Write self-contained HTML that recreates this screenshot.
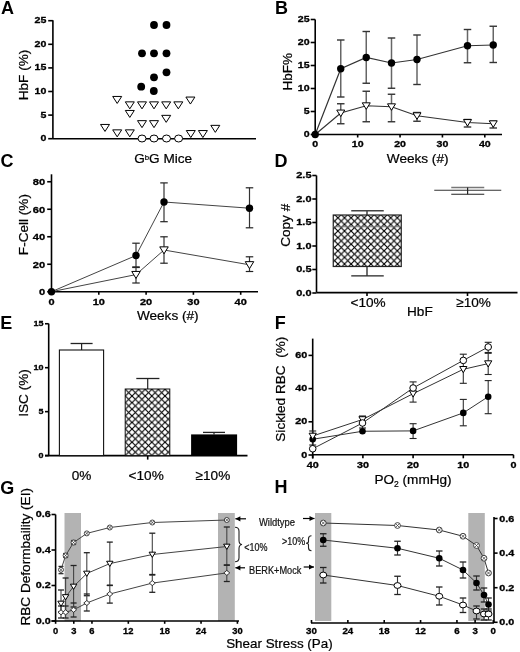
<!DOCTYPE html><html><head><meta charset="utf-8"><style>html,body{margin:0;padding:0;background:#fff;width:520px;height:652px;overflow:hidden}svg{display:block;will-change:transform}text{font-family:"Liberation Sans",sans-serif;stroke:#000;stroke-width:.22px}text.t{stroke-width:.3px}text.p{stroke:none}</style></head><body>
<svg width="520" height="652" viewBox="0 0 520 652">
<defs><pattern id="hatch" patternUnits="userSpaceOnUse" width="6.6" height="6.6" x="1.3" y="0"><rect width="6.6" height="6.6" fill="#fff"/><path d="M-1,1L1,-1M0,6.6L6.6,0M5.6,7.6L7.6,5.6" stroke="#000" stroke-width="1.15"/><path d="M-1,5.6L1,7.6M0,0L6.6,6.6M5.6,-1L7.6,1" stroke="#000" stroke-width="1.15"/></pattern><pattern id="hatchE" patternUnits="userSpaceOnUse" width="6.6" height="6.6" x="0" y="0"><rect width="6.6" height="6.6" fill="#fff"/><path d="M-1,1L1,-1M0,6.6L6.6,0M5.6,7.6L7.6,5.6" stroke="#000" stroke-width="1.15"/><path d="M-1,5.6L1,7.6M0,0L6.6,6.6M5.6,-1L7.6,1" stroke="#000" stroke-width="1.15"/></pattern></defs>
<rect width="520" height="652" fill="#fff"/>
<text x="1.0" y="13.7" font-size="18" font-weight="bold" text-anchor="start" fill="#000" class="p">A</text>
<line x1="52.9" y1="20.3" x2="52.9" y2="138.7" stroke="#000" stroke-width="1.6" />
<line x1="52.9" y1="138.7" x2="256" y2="138.7" stroke="#000" stroke-width="1.6" />
<line x1="48.2" y1="138.7" x2="52.9" y2="138.7" stroke="#000" stroke-width="1.6" />
<text x="46.4" y="141.25" font-size="9.29" font-weight="bold" text-anchor="end" fill="#000" textLength="5.9" lengthAdjust="spacingAndGlyphs" class="t">0</text>
<line x1="48.2" y1="115.1" x2="52.9" y2="115.1" stroke="#000" stroke-width="1.6" />
<text x="46.4" y="117.65" font-size="9.29" font-weight="bold" text-anchor="end" fill="#000" textLength="5.9" lengthAdjust="spacingAndGlyphs" class="t">5</text>
<line x1="48.2" y1="91.5" x2="52.9" y2="91.5" stroke="#000" stroke-width="1.6" />
<text x="46.4" y="94.05" font-size="9.29" font-weight="bold" text-anchor="end" fill="#000" textLength="11.8" lengthAdjust="spacingAndGlyphs" class="t">10</text>
<line x1="48.2" y1="67.89999999999999" x2="52.9" y2="67.89999999999999" stroke="#000" stroke-width="1.6" />
<text x="46.4" y="70.45" font-size="9.29" font-weight="bold" text-anchor="end" fill="#000" textLength="11.8" lengthAdjust="spacingAndGlyphs" class="t">15</text>
<line x1="48.2" y1="44.3" x2="52.9" y2="44.3" stroke="#000" stroke-width="1.6" />
<text x="46.4" y="46.85" font-size="9.29" font-weight="bold" text-anchor="end" fill="#000" textLength="11.8" lengthAdjust="spacingAndGlyphs" class="t">20</text>
<line x1="48.2" y1="20.69999999999999" x2="52.9" y2="20.69999999999999" stroke="#000" stroke-width="1.6" />
<text x="46.4" y="23.25" font-size="9.29" font-weight="bold" text-anchor="end" fill="#000" textLength="11.8" lengthAdjust="spacingAndGlyphs" class="t">25</text>
<text transform="translate(28.0,75) rotate(-90)" font-size="13.6" text-anchor="middle">HbF (%)</text>
<text x="134.2" y="162.6" font-size="13.6">G<tspan font-size="7.8" dy="-2.6">b</tspan><tspan dy="2.6">G Mice</tspan></text>
<circle cx="154" cy="25" r="3.9" fill="#000"/>
<circle cx="166.5" cy="25" r="3.9" fill="#000"/>
<circle cx="142" cy="53.3" r="3.9" fill="#000"/>
<circle cx="154" cy="53.3" r="3.9" fill="#000"/>
<circle cx="166.5" cy="53.3" r="3.9" fill="#000"/>
<circle cx="166.5" cy="72.3" r="3.9" fill="#000"/>
<circle cx="154" cy="77.3" r="3.9" fill="#000"/>
<circle cx="141.2" cy="86.7" r="3.9" fill="#000"/>
<circle cx="153.8" cy="91" r="3.9" fill="#000"/>
<polygon points="112.7,96.44999999999999 121.7,96.44999999999999 117.2,103.44999999999999" fill="#fff" stroke="#000" stroke-width="1" stroke-linejoin="miter"/>
<polygon points="125.30000000000001,101.85 134.3,101.85 129.8,108.85" fill="#fff" stroke="#000" stroke-width="1" stroke-linejoin="miter"/>
<polygon points="137.5,101.85 146.5,101.85 142,108.85" fill="#fff" stroke="#000" stroke-width="1" stroke-linejoin="miter"/>
<polygon points="149.5,101.85 158.5,101.85 154,108.85" fill="#fff" stroke="#000" stroke-width="1" stroke-linejoin="miter"/>
<polygon points="161.7,101.85 170.7,101.85 166.2,108.85" fill="#fff" stroke="#000" stroke-width="1" stroke-linejoin="miter"/>
<polygon points="173.8,101.85 182.8,101.85 178.3,108.85" fill="#fff" stroke="#000" stroke-width="1" stroke-linejoin="miter"/>
<polygon points="185.9,97.05 194.9,97.05 190.4,104.05" fill="#fff" stroke="#000" stroke-width="1" stroke-linejoin="miter"/>
<polygon points="125.30000000000001,110.44999999999999 134.3,110.44999999999999 129.8,117.44999999999999" fill="#fff" stroke="#000" stroke-width="1" stroke-linejoin="miter"/>
<polygon points="137.5,120.64999999999999 146.5,120.64999999999999 142,127.64999999999999" fill="#fff" stroke="#000" stroke-width="1" stroke-linejoin="miter"/>
<polygon points="149.5,120.64999999999999 158.5,120.64999999999999 154,127.64999999999999" fill="#fff" stroke="#000" stroke-width="1" stroke-linejoin="miter"/>
<polygon points="161.7,115.35 170.7,115.35 166.2,122.35" fill="#fff" stroke="#000" stroke-width="1" stroke-linejoin="miter"/>
<polygon points="100.5,124.44999999999999 109.5,124.44999999999999 105,131.45" fill="#fff" stroke="#000" stroke-width="1" stroke-linejoin="miter"/>
<polygon points="112.7,129.85 121.7,129.85 117.2,136.85" fill="#fff" stroke="#000" stroke-width="1" stroke-linejoin="miter"/>
<polygon points="125.30000000000001,129.85 134.3,129.85 129.8,136.85" fill="#fff" stroke="#000" stroke-width="1" stroke-linejoin="miter"/>
<polygon points="186.3,130.54999999999998 195.3,130.54999999999998 190.8,137.54999999999998" fill="#fff" stroke="#000" stroke-width="1" stroke-linejoin="miter"/>
<polygon points="198.4,130.54999999999998 207.4,130.54999999999998 202.9,137.54999999999998" fill="#fff" stroke="#000" stroke-width="1" stroke-linejoin="miter"/>
<polygon points="210.8,125.35 219.8,125.35 215.3,132.35" fill="#fff" stroke="#000" stroke-width="1" stroke-linejoin="miter"/>
<ellipse cx="142" cy="138.5" rx="4" ry="3.5" fill="#fff" stroke="#000" stroke-width="1"/>
<ellipse cx="154" cy="138.5" rx="4" ry="3.5" fill="#fff" stroke="#000" stroke-width="1"/>
<ellipse cx="166.5" cy="138.5" rx="4" ry="3.5" fill="#fff" stroke="#000" stroke-width="1"/>
<ellipse cx="178.6" cy="138.5" rx="4" ry="3.5" fill="#fff" stroke="#000" stroke-width="1"/>
<text x="275.0" y="13.7" font-size="18" font-weight="bold" text-anchor="start" fill="#000" class="p">B</text>
<line x1="315.2" y1="19.5" x2="315.2" y2="134.5" stroke="#000" stroke-width="1.6" />
<line x1="315.2" y1="134.5" x2="502" y2="134.5" stroke="#000" stroke-width="1.6" />
<line x1="310.7" y1="134.5" x2="315.2" y2="134.5" stroke="#000" stroke-width="1.6" />
<text x="309.6" y="137.05" font-size="9.29" font-weight="bold" text-anchor="end" fill="#000" textLength="5.9" lengthAdjust="spacingAndGlyphs" class="t">0</text>
<line x1="310.7" y1="111.5" x2="315.2" y2="111.5" stroke="#000" stroke-width="1.6" />
<text x="309.6" y="114.05" font-size="9.29" font-weight="bold" text-anchor="end" fill="#000" textLength="5.9" lengthAdjust="spacingAndGlyphs" class="t">5</text>
<line x1="310.7" y1="88.5" x2="315.2" y2="88.5" stroke="#000" stroke-width="1.6" />
<text x="309.6" y="91.05" font-size="9.29" font-weight="bold" text-anchor="end" fill="#000" textLength="11.8" lengthAdjust="spacingAndGlyphs" class="t">10</text>
<line x1="310.7" y1="65.5" x2="315.2" y2="65.5" stroke="#000" stroke-width="1.6" />
<text x="309.6" y="68.05" font-size="9.29" font-weight="bold" text-anchor="end" fill="#000" textLength="11.8" lengthAdjust="spacingAndGlyphs" class="t">15</text>
<line x1="310.7" y1="42.5" x2="315.2" y2="42.5" stroke="#000" stroke-width="1.6" />
<text x="309.6" y="45.05" font-size="9.29" font-weight="bold" text-anchor="end" fill="#000" textLength="11.8" lengthAdjust="spacingAndGlyphs" class="t">20</text>
<line x1="310.7" y1="19.500000000000014" x2="315.2" y2="19.500000000000014" stroke="#000" stroke-width="1.6" />
<text x="309.6" y="22.05" font-size="9.29" font-weight="bold" text-anchor="end" fill="#000" textLength="11.8" lengthAdjust="spacingAndGlyphs" class="t">25</text>
<line x1="315.3" y1="134.5" x2="315.3" y2="137.5" stroke="#000" stroke-width="1.6" />
<text x="315.3" y="146.95" font-size="9.29" font-weight="bold" text-anchor="middle" fill="#000" textLength="5.9" lengthAdjust="spacingAndGlyphs" class="t">0</text>
<line x1="357.675" y1="134.5" x2="357.675" y2="137.5" stroke="#000" stroke-width="1.6" />
<text x="357.675" y="146.95" font-size="9.29" font-weight="bold" text-anchor="middle" fill="#000" textLength="11.8" lengthAdjust="spacingAndGlyphs" class="t">10</text>
<line x1="400.05" y1="134.5" x2="400.05" y2="137.5" stroke="#000" stroke-width="1.6" />
<text x="400.05" y="146.95" font-size="9.29" font-weight="bold" text-anchor="middle" fill="#000" textLength="11.8" lengthAdjust="spacingAndGlyphs" class="t">20</text>
<line x1="442.425" y1="134.5" x2="442.425" y2="137.5" stroke="#000" stroke-width="1.6" />
<text x="442.425" y="146.95" font-size="9.29" font-weight="bold" text-anchor="middle" fill="#000" textLength="11.8" lengthAdjust="spacingAndGlyphs" class="t">30</text>
<line x1="484.8" y1="134.5" x2="484.8" y2="137.5" stroke="#000" stroke-width="1.6" />
<text x="484.8" y="146.95" font-size="9.29" font-weight="bold" text-anchor="middle" fill="#000" textLength="11.8" lengthAdjust="spacingAndGlyphs" class="t">40</text>
<text x="386.8" y="162.5" font-size="13.6" font-weight="normal" text-anchor="start" fill="#000" >Weeks (#)</text>
<text transform="translate(292,71.7) rotate(-90)" font-size="13.6" text-anchor="middle">HbF%</text>
<line x1="340.75" y1="40" x2="340.75" y2="97" stroke="#666" stroke-width="1.5" />
<line x1="337.0" y1="40" x2="344.5" y2="40" stroke="#333" stroke-width="1.4" />
<line x1="337.0" y1="97" x2="344.5" y2="97" stroke="#333" stroke-width="1.4" />
<line x1="340.75" y1="103.75" x2="340.75" y2="123.75" stroke="#666" stroke-width="1.5" />
<line x1="337.0" y1="103.75" x2="344.5" y2="103.75" stroke="#333" stroke-width="1.4" />
<line x1="337.0" y1="123.75" x2="344.5" y2="123.75" stroke="#333" stroke-width="1.4" />
<line x1="366.25" y1="31.5" x2="366.25" y2="83.25" stroke="#666" stroke-width="1.5" />
<line x1="362.5" y1="31.5" x2="370.0" y2="31.5" stroke="#333" stroke-width="1.4" />
<line x1="362.5" y1="83.25" x2="370.0" y2="83.25" stroke="#333" stroke-width="1.4" />
<line x1="366.25" y1="91.25" x2="366.25" y2="121.75" stroke="#666" stroke-width="1.5" />
<line x1="362.5" y1="91.25" x2="370.0" y2="91.25" stroke="#333" stroke-width="1.4" />
<line x1="362.5" y1="121.75" x2="370.0" y2="121.75" stroke="#333" stroke-width="1.4" />
<line x1="391.5" y1="38" x2="391.5" y2="88.25" stroke="#666" stroke-width="1.5" />
<line x1="387.75" y1="38" x2="395.25" y2="38" stroke="#333" stroke-width="1.4" />
<line x1="387.75" y1="88.25" x2="395.25" y2="88.25" stroke="#333" stroke-width="1.4" />
<line x1="391.5" y1="94.25" x2="391.5" y2="121.75" stroke="#666" stroke-width="1.5" />
<line x1="387.75" y1="94.25" x2="395.25" y2="94.25" stroke="#333" stroke-width="1.4" />
<line x1="387.75" y1="121.75" x2="395.25" y2="121.75" stroke="#333" stroke-width="1.4" />
<line x1="417" y1="35" x2="417" y2="84.5" stroke="#666" stroke-width="1.5" />
<line x1="413.25" y1="35" x2="420.75" y2="35" stroke="#333" stroke-width="1.4" />
<line x1="413.25" y1="84.5" x2="420.75" y2="84.5" stroke="#333" stroke-width="1.4" />
<line x1="417" y1="112.5" x2="417" y2="121.25" stroke="#666" stroke-width="1.5" />
<line x1="413.25" y1="112.5" x2="420.75" y2="112.5" stroke="#333" stroke-width="1.4" />
<line x1="413.25" y1="121.25" x2="420.75" y2="121.25" stroke="#333" stroke-width="1.4" />
<line x1="467.5" y1="29.5" x2="467.5" y2="62.75" stroke="#666" stroke-width="1.5" />
<line x1="463.75" y1="29.5" x2="471.25" y2="29.5" stroke="#333" stroke-width="1.4" />
<line x1="463.75" y1="62.75" x2="471.25" y2="62.75" stroke="#333" stroke-width="1.4" />
<line x1="467.5" y1="119.5" x2="467.5" y2="127" stroke="#666" stroke-width="1.5" />
<line x1="463.75" y1="119.5" x2="471.25" y2="119.5" stroke="#333" stroke-width="1.4" />
<line x1="463.75" y1="127" x2="471.25" y2="127" stroke="#333" stroke-width="1.4" />
<line x1="493.25" y1="26.25" x2="493.25" y2="62.5" stroke="#666" stroke-width="1.5" />
<line x1="489.5" y1="26.25" x2="497.0" y2="26.25" stroke="#333" stroke-width="1.4" />
<line x1="489.5" y1="62.5" x2="497.0" y2="62.5" stroke="#333" stroke-width="1.4" />
<line x1="493.25" y1="121.25" x2="493.25" y2="128" stroke="#666" stroke-width="1.5" />
<line x1="489.5" y1="121.25" x2="497.0" y2="121.25" stroke="#333" stroke-width="1.4" />
<line x1="489.5" y1="128" x2="497.0" y2="128" stroke="#333" stroke-width="1.4" />
<polyline points="315.2,134.5 340.75,68.75 366.25,57.5 391.5,63 417,59.5 467.5,45.75 493.25,45" fill="none" stroke="#333" stroke-width="1.2"/>
<polyline points="315.2,134.5 340.75,113 366.25,105.75 391.5,106.75 417,115.75 467.5,122.5 493.25,123.75" fill="none" stroke="#333" stroke-width="1.2"/>
<circle cx="315.2" cy="134.5" r="3.7" fill="#000"/>
<circle cx="340.75" cy="68.75" r="3.7" fill="#000"/>
<circle cx="366.25" cy="57.5" r="3.7" fill="#000"/>
<circle cx="391.5" cy="63" r="3.7" fill="#000"/>
<circle cx="417" cy="59.5" r="3.7" fill="#000"/>
<circle cx="467.5" cy="45.75" r="3.7" fill="#000"/>
<circle cx="493.25" cy="45" r="3.7" fill="#000"/>
<polygon points="336.75,110.075 344.75,110.075 340.75,116.575" fill="#fff" stroke="#000" stroke-width="1" stroke-linejoin="miter"/>
<polygon points="362.25,102.825 370.25,102.825 366.25,109.325" fill="#fff" stroke="#000" stroke-width="1" stroke-linejoin="miter"/>
<polygon points="387.5,103.825 395.5,103.825 391.5,110.325" fill="#fff" stroke="#000" stroke-width="1" stroke-linejoin="miter"/>
<polygon points="413.0,112.825 421.0,112.825 417,119.325" fill="#fff" stroke="#000" stroke-width="1" stroke-linejoin="miter"/>
<polygon points="463.5,119.575 471.5,119.575 467.5,126.075" fill="#fff" stroke="#000" stroke-width="1" stroke-linejoin="miter"/>
<polygon points="489.25,120.825 497.25,120.825 493.25,127.325" fill="#fff" stroke="#000" stroke-width="1" stroke-linejoin="miter"/>
<text x="0.6" y="166.5" font-size="18" font-weight="bold" text-anchor="start" fill="#000" class="p">C</text>
<line x1="51.5" y1="174.3" x2="51.5" y2="291.7" stroke="#000" stroke-width="1.6" />
<line x1="51.5" y1="291.7" x2="258" y2="291.7" stroke="#000" stroke-width="1.6" />
<line x1="47.2" y1="291.75" x2="51.5" y2="291.75" stroke="#000" stroke-width="1.6" />
<text x="45.2" y="295.1" font-size="9.57" font-weight="bold" text-anchor="end" fill="#000" textLength="6.2" lengthAdjust="spacingAndGlyphs" class="t">0</text>
<line x1="47.2" y1="264.25" x2="51.5" y2="264.25" stroke="#000" stroke-width="1.6" />
<text x="45.2" y="267.6" font-size="9.57" font-weight="bold" text-anchor="end" fill="#000" textLength="12.4" lengthAdjust="spacingAndGlyphs" class="t">20</text>
<line x1="47.2" y1="236.75" x2="51.5" y2="236.75" stroke="#000" stroke-width="1.6" />
<text x="45.2" y="240.1" font-size="9.57" font-weight="bold" text-anchor="end" fill="#000" textLength="12.4" lengthAdjust="spacingAndGlyphs" class="t">40</text>
<line x1="47.2" y1="209.25" x2="51.5" y2="209.25" stroke="#000" stroke-width="1.6" />
<text x="45.2" y="212.6" font-size="9.57" font-weight="bold" text-anchor="end" fill="#000" textLength="12.4" lengthAdjust="spacingAndGlyphs" class="t">60</text>
<line x1="47.2" y1="181.75" x2="51.5" y2="181.75" stroke="#000" stroke-width="1.6" />
<text x="45.2" y="185.1" font-size="9.57" font-weight="bold" text-anchor="end" fill="#000" textLength="12.4" lengthAdjust="spacingAndGlyphs" class="t">80</text>
<line x1="51.5" y1="291.7" x2="51.5" y2="294.8" stroke="#000" stroke-width="1.6" />
<text x="51.5" y="304.85" font-size="9.29" font-weight="bold" text-anchor="middle" fill="#000" textLength="6.1" lengthAdjust="spacingAndGlyphs" class="t">0</text>
<line x1="98.80000000000001" y1="291.7" x2="98.80000000000001" y2="294.8" stroke="#000" stroke-width="1.6" />
<text x="98.80000000000001" y="304.85" font-size="9.29" font-weight="bold" text-anchor="middle" fill="#000" textLength="12.2" lengthAdjust="spacingAndGlyphs" class="t">10</text>
<line x1="146.10000000000002" y1="291.7" x2="146.10000000000002" y2="294.8" stroke="#000" stroke-width="1.6" />
<text x="146.10000000000002" y="304.85" font-size="9.29" font-weight="bold" text-anchor="middle" fill="#000" textLength="12.2" lengthAdjust="spacingAndGlyphs" class="t">20</text>
<line x1="193.4" y1="291.7" x2="193.4" y2="294.8" stroke="#000" stroke-width="1.6" />
<text x="193.4" y="304.85" font-size="9.29" font-weight="bold" text-anchor="middle" fill="#000" textLength="12.2" lengthAdjust="spacingAndGlyphs" class="t">30</text>
<line x1="240.70000000000002" y1="291.7" x2="240.70000000000002" y2="294.8" stroke="#000" stroke-width="1.6" />
<text x="240.70000000000002" y="304.85" font-size="9.29" font-weight="bold" text-anchor="middle" fill="#000" textLength="12.2" lengthAdjust="spacingAndGlyphs" class="t">40</text>
<text x="136.9" y="320.3" font-size="13.6" font-weight="normal" text-anchor="start" fill="#000" >Weeks (#)</text>
<text transform="translate(28.4,224.6) rotate(-90)" font-size="13.6" text-anchor="middle">F-Cell (%)</text>
<line x1="136" y1="243.2" x2="136" y2="267.5" stroke="#333" stroke-width="1.2" />
<line x1="132.25" y1="243.2" x2="139.75" y2="243.2" stroke="#222" stroke-width="1.2" />
<line x1="132.25" y1="267.5" x2="139.75" y2="267.5" stroke="#222" stroke-width="1.2" />
<line x1="136" y1="266.9" x2="136" y2="283" stroke="#333" stroke-width="1.2" />
<line x1="132.25" y1="266.9" x2="139.75" y2="266.9" stroke="#222" stroke-width="1.2" />
<line x1="132.25" y1="283" x2="139.75" y2="283" stroke="#222" stroke-width="1.2" />
<line x1="164" y1="182.9" x2="164" y2="221.7" stroke="#333" stroke-width="1.2" />
<line x1="160.25" y1="182.9" x2="167.75" y2="182.9" stroke="#222" stroke-width="1.2" />
<line x1="160.25" y1="221.7" x2="167.75" y2="221.7" stroke="#222" stroke-width="1.2" />
<line x1="164" y1="236.8" x2="164" y2="263.2" stroke="#333" stroke-width="1.2" />
<line x1="160.25" y1="236.8" x2="167.75" y2="236.8" stroke="#222" stroke-width="1.2" />
<line x1="160.25" y1="263.2" x2="167.75" y2="263.2" stroke="#222" stroke-width="1.2" />
<line x1="249.5" y1="187.8" x2="249.5" y2="227.8" stroke="#333" stroke-width="1.2" />
<line x1="245.75" y1="187.8" x2="253.25" y2="187.8" stroke="#222" stroke-width="1.2" />
<line x1="245.75" y1="227.8" x2="253.25" y2="227.8" stroke="#222" stroke-width="1.2" />
<line x1="249.5" y1="256.8" x2="249.5" y2="271.5" stroke="#333" stroke-width="1.2" />
<line x1="245.75" y1="256.8" x2="253.25" y2="256.8" stroke="#222" stroke-width="1.2" />
<line x1="245.75" y1="271.5" x2="253.25" y2="271.5" stroke="#222" stroke-width="1.2" />
<polyline points="51.5,291.7 136,255.5 164,202 249.5,208.2" fill="none" stroke="#444" stroke-width="1"/>
<polyline points="51.5,291.7 136,274.6 164,250 249.5,264.8" fill="none" stroke="#444" stroke-width="1"/>
<circle cx="51.5" cy="291.7" r="3.7" fill="#000"/>
<circle cx="136" cy="255.5" r="3.7" fill="#000"/>
<circle cx="164" cy="202" r="3.7" fill="#000"/>
<circle cx="249.5" cy="208.2" r="3.7" fill="#000"/>
<polygon points="131.75,271.45000000000005 140.25,271.45000000000005 136,278.45000000000005" fill="#fff" stroke="#000" stroke-width="1" stroke-linejoin="miter"/>
<polygon points="159.75,246.85 168.25,246.85 164,253.85" fill="#fff" stroke="#000" stroke-width="1" stroke-linejoin="miter"/>
<polygon points="245.25,261.65000000000003 253.75,261.65000000000003 249.5,268.65000000000003" fill="#fff" stroke="#000" stroke-width="1" stroke-linejoin="miter"/>
<text x="274.6" y="166.6" font-size="18" font-weight="bold" text-anchor="start" fill="#000" class="p">D</text>
<line x1="316.5" y1="175.5" x2="316.5" y2="292.6" stroke="#000" stroke-width="1.6" />
<line x1="316.5" y1="292.6" x2="517.5" y2="292.6" stroke="#000" stroke-width="1.6" />
<line x1="312.3" y1="293" x2="316.5" y2="293" stroke="#000" stroke-width="1.6" />
<text x="311.5" y="295.55" font-size="9.29" font-weight="bold" text-anchor="end" fill="#000" textLength="15.25" lengthAdjust="spacingAndGlyphs" class="t">0.0</text>
<line x1="312.3" y1="269.5" x2="316.5" y2="269.5" stroke="#000" stroke-width="1.6" />
<text x="311.5" y="272.05" font-size="9.29" font-weight="bold" text-anchor="end" fill="#000" textLength="15.25" lengthAdjust="spacingAndGlyphs" class="t">0.5</text>
<line x1="312.3" y1="246.0" x2="316.5" y2="246.0" stroke="#000" stroke-width="1.6" />
<text x="311.5" y="248.55" font-size="9.29" font-weight="bold" text-anchor="end" fill="#000" textLength="15.25" lengthAdjust="spacingAndGlyphs" class="t">1.0</text>
<line x1="312.3" y1="222.5" x2="316.5" y2="222.5" stroke="#000" stroke-width="1.6" />
<text x="311.5" y="225.05" font-size="9.29" font-weight="bold" text-anchor="end" fill="#000" textLength="15.25" lengthAdjust="spacingAndGlyphs" class="t">1.5</text>
<line x1="312.3" y1="199.0" x2="316.5" y2="199.0" stroke="#000" stroke-width="1.6" />
<text x="311.5" y="201.55" font-size="9.29" font-weight="bold" text-anchor="end" fill="#000" textLength="15.25" lengthAdjust="spacingAndGlyphs" class="t">2.0</text>
<line x1="312.3" y1="175.5" x2="316.5" y2="175.5" stroke="#000" stroke-width="1.6" />
<text x="311.5" y="178.05" font-size="9.29" font-weight="bold" text-anchor="end" fill="#000" textLength="15.25" lengthAdjust="spacingAndGlyphs" class="t">2.5</text>
<line x1="367" y1="292.6" x2="367" y2="296" stroke="#000" stroke-width="1.6" />
<line x1="467.5" y1="292.6" x2="467.5" y2="296" stroke="#000" stroke-width="1.6" />
<rect x="333.25" y="215" width="68" height="51.5" fill="url(#hatch)" stroke="#222" stroke-width="1.2"/>
<line x1="333.25" y1="226.8" x2="401.25" y2="226.8" stroke="#777" stroke-width="1.1" />
<line x1="367" y1="210.8" x2="367" y2="215" stroke="#222" stroke-width="1.3" />
<line x1="351.25" y1="210.8" x2="383.75" y2="210.8" stroke="#444" stroke-width="1.6" />
<line x1="367" y1="266.5" x2="367" y2="275.8" stroke="#222" stroke-width="1.3" />
<line x1="351.25" y1="275.8" x2="383.75" y2="275.8" stroke="#222" stroke-width="1.3" />
<line x1="434.25" y1="190.3" x2="501.25" y2="190.3" stroke="#333" stroke-width="1.1" />
<line x1="451.25" y1="187.6" x2="484.25" y2="187.6" stroke="#777" stroke-width="1.5" />
<line x1="451.25" y1="194.2" x2="484.25" y2="194.2" stroke="#222" stroke-width="1.1" />
<line x1="467.6" y1="187.6" x2="467.6" y2="194.2" stroke="#222" stroke-width="1.2" />
<text x="350.5" y="306.5" font-size="13.6" font-weight="normal" text-anchor="start" fill="#000" >&lt;10%</text>
<text x="456.2" y="306.7" font-size="13.6" font-weight="normal" text-anchor="start" fill="#000" >≥10%</text>
<text x="407" y="316.3" font-size="13.6" font-weight="normal" text-anchor="start" fill="#000" >HbF</text>
<text transform="translate(290.3,225.3) rotate(-90)" font-size="13.6" text-anchor="middle">Copy #</text>
<text x="0.3" y="328.6" font-size="18" font-weight="bold" text-anchor="start" fill="#000" class="p">E</text>
<line x1="48.7" y1="323.6" x2="48.7" y2="455.6" stroke="#000" stroke-width="1.6" />
<line x1="45" y1="455.6" x2="247.5" y2="455.6" stroke="#000" stroke-width="1.6" />
<line x1="45" y1="455.6" x2="48.7" y2="455.6" stroke="#000" stroke-width="1.6" />
<text x="43.6" y="457.7" font-size="8.0" font-weight="bold" text-anchor="end" fill="#000" textLength="5.0" lengthAdjust="spacingAndGlyphs" class="t">0</text>
<line x1="45" y1="411.65000000000003" x2="48.7" y2="411.65000000000003" stroke="#000" stroke-width="1.6" />
<text x="43.6" y="413.75" font-size="8.0" font-weight="bold" text-anchor="end" fill="#000" textLength="5.0" lengthAdjust="spacingAndGlyphs" class="t">5</text>
<line x1="45" y1="367.70000000000005" x2="48.7" y2="367.70000000000005" stroke="#000" stroke-width="1.6" />
<text x="43.6" y="369.8" font-size="8.0" font-weight="bold" text-anchor="end" fill="#000" textLength="10.0" lengthAdjust="spacingAndGlyphs" class="t">10</text>
<line x1="45" y1="323.75" x2="48.7" y2="323.75" stroke="#000" stroke-width="1.6" />
<text x="43.6" y="325.85" font-size="8.0" font-weight="bold" text-anchor="end" fill="#000" textLength="10.0" lengthAdjust="spacingAndGlyphs" class="t">15</text>
<line x1="147.7" y1="455.6" x2="147.7" y2="459.6" stroke="#000" stroke-width="1.6" />
<line x1="81.6" y1="343.5" x2="81.6" y2="350" stroke="#222" stroke-width="1.2" />
<line x1="70.6" y1="343.5" x2="92.6" y2="343.5" stroke="#222" stroke-width="1.3" />
<rect x="59.4" y="350" width="44.2" height="105.6" fill="#fff" stroke="#111" stroke-width="1.1"/>
<line x1="147.7" y1="378.5" x2="147.7" y2="389" stroke="#222" stroke-width="1.2" />
<line x1="136.3" y1="378.5" x2="159.4" y2="378.5" stroke="#222" stroke-width="1.3" />
<rect x="125.2" y="389" width="44.6" height="66.6" fill="url(#hatchE)" stroke="#111" stroke-width="1"/>
<line x1="214" y1="432.4" x2="214" y2="434.5" stroke="#222" stroke-width="1.2" />
<line x1="203" y1="432.4" x2="225" y2="432.4" stroke="#222" stroke-width="1.3" />
<rect x="191.1" y="434.4" width="46" height="21.2" fill="#000"/>
<text x="71.7" y="479.8" font-size="13.6" font-weight="normal" text-anchor="start" fill="#000" >0%</text>
<text x="128.6" y="479.8" font-size="13.6" font-weight="normal" text-anchor="start" fill="#000" >&lt;10%</text>
<text x="195.6" y="479.8" font-size="13.6" font-weight="normal" text-anchor="start" fill="#000" >≥10%</text>
<text transform="translate(28.0,393) rotate(-90)" font-size="13.6" text-anchor="middle">ISC (%)</text>
<text x="274.8" y="328.6" font-size="18" font-weight="bold" text-anchor="start" fill="#000" class="p">F</text>
<line x1="312.7" y1="338.6" x2="312.7" y2="458.5" stroke="#000" stroke-width="1.6" />
<line x1="312.7" y1="454.8" x2="513.5" y2="454.8" stroke="#000" stroke-width="1.6" />
<line x1="308.5" y1="455.0" x2="312.7" y2="455.0" stroke="#000" stroke-width="1.6" />
<text x="307.3" y="457.55" font-size="9.29" font-weight="bold" text-anchor="end" fill="#000" textLength="6" lengthAdjust="spacingAndGlyphs" class="t">0</text>
<line x1="308.5" y1="421.8" x2="312.7" y2="421.8" stroke="#000" stroke-width="1.6" />
<text x="307.3" y="424.35" font-size="9.29" font-weight="bold" text-anchor="end" fill="#000" textLength="12" lengthAdjust="spacingAndGlyphs" class="t">20</text>
<line x1="308.5" y1="388.6" x2="312.7" y2="388.6" stroke="#000" stroke-width="1.6" />
<text x="307.3" y="391.15" font-size="9.29" font-weight="bold" text-anchor="end" fill="#000" textLength="12" lengthAdjust="spacingAndGlyphs" class="t">40</text>
<line x1="308.5" y1="355.4" x2="312.7" y2="355.4" stroke="#000" stroke-width="1.6" />
<text x="307.3" y="357.95" font-size="9.29" font-weight="bold" text-anchor="end" fill="#000" textLength="12" lengthAdjust="spacingAndGlyphs" class="t">60</text>
<line x1="312.7" y1="454.8" x2="312.7" y2="458.3" stroke="#000" stroke-width="1.6" />
<text x="312.7" y="468.35" font-size="9.29" font-weight="bold" text-anchor="middle" fill="#000" textLength="12" lengthAdjust="spacingAndGlyphs" class="t">40</text>
<line x1="362.9" y1="454.8" x2="362.9" y2="458.3" stroke="#000" stroke-width="1.6" />
<text x="362.9" y="468.35" font-size="9.29" font-weight="bold" text-anchor="middle" fill="#000" textLength="12" lengthAdjust="spacingAndGlyphs" class="t">30</text>
<line x1="413.09999999999997" y1="454.8" x2="413.09999999999997" y2="458.3" stroke="#000" stroke-width="1.6" />
<text x="413.09999999999997" y="468.35" font-size="9.29" font-weight="bold" text-anchor="middle" fill="#000" textLength="12" lengthAdjust="spacingAndGlyphs" class="t">20</text>
<line x1="463.29999999999995" y1="454.8" x2="463.29999999999995" y2="458.3" stroke="#000" stroke-width="1.6" />
<text x="463.29999999999995" y="468.35" font-size="9.29" font-weight="bold" text-anchor="middle" fill="#000" textLength="12" lengthAdjust="spacingAndGlyphs" class="t">10</text>
<line x1="513.5" y1="454.8" x2="513.5" y2="458.3" stroke="#000" stroke-width="1.6" />
<text x="513.5" y="468.35" font-size="9.29" font-weight="bold" text-anchor="middle" fill="#000" textLength="6" lengthAdjust="spacingAndGlyphs" class="t">0</text>
<text x="374.4" y="484.2" font-size="13.6">PO<tspan font-size="8.5" dy="3">2</tspan><tspan dy="-3"> (mmHg)</tspan></text>
<text transform="translate(285.3,389.2) rotate(-90)" font-size="13.6" text-anchor="middle" xml:space="preserve">Sickled RBC  (%)</text>
<line x1="413.1" y1="381.9" x2="413.1" y2="402.1" stroke="#333" stroke-width="1.1" />
<line x1="409.6" y1="381.9" x2="416.6" y2="381.9" stroke="#222" stroke-width="1.1" />
<line x1="409.6" y1="402.1" x2="416.6" y2="402.1" stroke="#222" stroke-width="1.1" />
<line x1="463.3" y1="354.2" x2="463.3" y2="383.3" stroke="#333" stroke-width="1.1" />
<line x1="459.8" y1="354.2" x2="466.8" y2="354.2" stroke="#222" stroke-width="1.1" />
<line x1="459.8" y1="383.3" x2="466.8" y2="383.3" stroke="#222" stroke-width="1.1" />
<line x1="488.2" y1="342.3" x2="488.2" y2="353.3" stroke="#333" stroke-width="1.1" />
<line x1="484.7" y1="342.3" x2="491.7" y2="342.3" stroke="#222" stroke-width="1.1" />
<line x1="484.7" y1="353.3" x2="491.7" y2="353.3" stroke="#222" stroke-width="1.1" />
<line x1="488.2" y1="352.5" x2="488.2" y2="374.5" stroke="#333" stroke-width="1.1" />
<line x1="484.7" y1="352.5" x2="491.7" y2="352.5" stroke="#222" stroke-width="1.1" />
<line x1="484.7" y1="374.5" x2="491.7" y2="374.5" stroke="#222" stroke-width="1.1" />
<line x1="362.5" y1="416" x2="362.5" y2="428" stroke="#333" stroke-width="1.1" />
<line x1="359.0" y1="416" x2="366.0" y2="416" stroke="#222" stroke-width="1.1" />
<line x1="359.0" y1="428" x2="366.0" y2="428" stroke="#222" stroke-width="1.1" />
<line x1="312.7" y1="431" x2="312.7" y2="445" stroke="#333" stroke-width="1.1" />
<line x1="309.2" y1="431" x2="316.2" y2="431" stroke="#222" stroke-width="1.1" />
<line x1="309.2" y1="445" x2="316.2" y2="445" stroke="#222" stroke-width="1.1" />
<line x1="413.1" y1="423.7" x2="413.1" y2="438.5" stroke="#333" stroke-width="1.1" />
<line x1="409.6" y1="423.7" x2="416.6" y2="423.7" stroke="#222" stroke-width="1.1" />
<line x1="409.6" y1="438.5" x2="416.6" y2="438.5" stroke="#222" stroke-width="1.1" />
<line x1="463.3" y1="399.4" x2="463.3" y2="425.8" stroke="#333" stroke-width="1.1" />
<line x1="459.8" y1="399.4" x2="466.8" y2="399.4" stroke="#222" stroke-width="1.1" />
<line x1="459.8" y1="425.8" x2="466.8" y2="425.8" stroke="#222" stroke-width="1.1" />
<line x1="488.2" y1="380.6" x2="488.2" y2="413.7" stroke="#333" stroke-width="1.1" />
<line x1="484.7" y1="380.6" x2="491.7" y2="380.6" stroke="#222" stroke-width="1.1" />
<line x1="484.7" y1="413.7" x2="491.7" y2="413.7" stroke="#222" stroke-width="1.1" />
<polyline points="312.7,448.75 362.5,423 413.1,388 463.3,360.4 488.2,347" fill="none" stroke="#333" stroke-width="1"/>
<polyline points="312.7,436 362.5,419.5 413.1,393.7 463.3,369.3 488.2,363.6" fill="none" stroke="#333" stroke-width="1"/>
<polyline points="312.7,439.25 362.5,431.25 413.1,430.9 463.3,412.9 488.2,396.7" fill="none" stroke="#333" stroke-width="1"/>
<circle cx="312.7" cy="439.25" r="3.3" fill="#000"/>
<circle cx="362.5" cy="431.25" r="3.3" fill="#000"/>
<circle cx="413.1" cy="430.9" r="3.3" fill="#000"/>
<circle cx="463.3" cy="412.9" r="3.3" fill="#000"/>
<circle cx="488.2" cy="396.7" r="3.3" fill="#000"/>
<polygon points="309.09999999999997,433.21 316.3,433.21 312.7,439.41" fill="#fff" stroke="#000" stroke-width="1" stroke-linejoin="miter"/>
<polygon points="358.9,416.71 366.1,416.71 362.5,422.91" fill="#fff" stroke="#000" stroke-width="1" stroke-linejoin="miter"/>
<polygon points="409.5,390.90999999999997 416.70000000000005,390.90999999999997 413.1,397.11" fill="#fff" stroke="#000" stroke-width="1" stroke-linejoin="miter"/>
<polygon points="459.7,366.51 466.90000000000003,366.51 463.3,372.71000000000004" fill="#fff" stroke="#000" stroke-width="1" stroke-linejoin="miter"/>
<polygon points="484.59999999999997,360.81 491.8,360.81 488.2,367.01000000000005" fill="#fff" stroke="#000" stroke-width="1" stroke-linejoin="miter"/>
<circle cx="312.7" cy="448.75" r="3.3" fill="#fff" stroke="#000" stroke-width="1"/>
<circle cx="362.5" cy="423" r="3.3" fill="#fff" stroke="#000" stroke-width="1"/>
<circle cx="413.1" cy="388" r="3.3" fill="#fff" stroke="#000" stroke-width="1"/>
<circle cx="463.3" cy="360.4" r="3.3" fill="#fff" stroke="#000" stroke-width="1"/>
<circle cx="488.2" cy="347" r="3.3" fill="#fff" stroke="#000" stroke-width="1"/>
<text x="0.3" y="493.5" font-size="18" font-weight="bold" text-anchor="start" fill="#000" class="p">G</text>
<rect x="64.5" y="513" width="16.5" height="108" fill="#b3b3b3"/>
<rect x="218" y="513" width="16.8" height="108" fill="#b3b3b3"/>
<line x1="55.6" y1="514.5" x2="55.6" y2="621" stroke="#000" stroke-width="1.6" />
<line x1="51.5" y1="621" x2="239" y2="621" stroke="#000" stroke-width="1.6" />
<line x1="51.5" y1="621.0" x2="55.6" y2="621.0" stroke="#000" stroke-width="1.6" />
<text x="50.8" y="623.55" font-size="9.29" font-weight="bold" text-anchor="end" fill="#000" textLength="15.0" lengthAdjust="spacingAndGlyphs" class="t">0.0</text>
<line x1="51.5" y1="585.5" x2="55.6" y2="585.5" stroke="#000" stroke-width="1.6" />
<text x="50.8" y="588.05" font-size="9.29" font-weight="bold" text-anchor="end" fill="#000" textLength="15.0" lengthAdjust="spacingAndGlyphs" class="t">0.2</text>
<line x1="51.5" y1="550.0" x2="55.6" y2="550.0" stroke="#000" stroke-width="1.6" />
<text x="50.8" y="552.55" font-size="9.29" font-weight="bold" text-anchor="end" fill="#000" textLength="15.0" lengthAdjust="spacingAndGlyphs" class="t">0.4</text>
<line x1="51.5" y1="514.5" x2="55.6" y2="514.5" stroke="#000" stroke-width="1.6" />
<text x="50.8" y="517.05" font-size="9.29" font-weight="bold" text-anchor="end" fill="#000" textLength="15.0" lengthAdjust="spacingAndGlyphs" class="t">0.6</text>
<line x1="55.6" y1="621" x2="55.6" y2="623.8" stroke="#000" stroke-width="1.6" />
<text x="55.6" y="633.75" font-size="9.0" font-weight="bold" text-anchor="middle" fill="#000" textLength="5.2" lengthAdjust="spacingAndGlyphs" class="t">0</text>
<line x1="73.78" y1="621" x2="73.78" y2="623.8" stroke="#000" stroke-width="1.6" />
<text x="73.78" y="633.75" font-size="9.0" font-weight="bold" text-anchor="middle" fill="#000" textLength="5.2" lengthAdjust="spacingAndGlyphs" class="t">3</text>
<line x1="91.96000000000001" y1="621" x2="91.96000000000001" y2="623.8" stroke="#000" stroke-width="1.6" />
<text x="91.96000000000001" y="633.75" font-size="9.0" font-weight="bold" text-anchor="middle" fill="#000" textLength="5.2" lengthAdjust="spacingAndGlyphs" class="t">6</text>
<line x1="128.32" y1="621" x2="128.32" y2="623.8" stroke="#000" stroke-width="1.6" />
<text x="128.32" y="633.75" font-size="9.0" font-weight="bold" text-anchor="middle" fill="#000" textLength="10.4" lengthAdjust="spacingAndGlyphs" class="t">12</text>
<line x1="164.68" y1="621" x2="164.68" y2="623.8" stroke="#000" stroke-width="1.6" />
<text x="164.68" y="633.75" font-size="9.0" font-weight="bold" text-anchor="middle" fill="#000" textLength="10.4" lengthAdjust="spacingAndGlyphs" class="t">18</text>
<line x1="201.04" y1="621" x2="201.04" y2="623.8" stroke="#000" stroke-width="1.6" />
<text x="201.04" y="633.75" font-size="9.0" font-weight="bold" text-anchor="middle" fill="#000" textLength="10.4" lengthAdjust="spacingAndGlyphs" class="t">24</text>
<line x1="237.39999999999998" y1="621" x2="237.39999999999998" y2="623.8" stroke="#000" stroke-width="1.6" />
<text x="237.39999999999998" y="633.75" font-size="9.0" font-weight="bold" text-anchor="middle" fill="#000" textLength="10.4" lengthAdjust="spacingAndGlyphs" class="t">30</text>
<text transform="translate(29.6,556.8) rotate(-90)" font-size="13.6" text-anchor="middle">RBC Deformbaility (EI)</text>
<line x1="61" y1="566.4" x2="61" y2="573.7" stroke="#444" stroke-width="1" />
<line x1="58.5" y1="566.4" x2="63.5" y2="566.4" stroke="#222" stroke-width="1.2" />
<line x1="58.5" y1="573.7" x2="63.5" y2="573.7" stroke="#222" stroke-width="1.2" />
<line x1="61" y1="590" x2="61" y2="612" stroke="#444" stroke-width="1.1" />
<line x1="58.0" y1="590" x2="64.0" y2="590" stroke="#222" stroke-width="1.3" />
<line x1="58.0" y1="612" x2="64.0" y2="612" stroke="#222" stroke-width="1.3" />
<line x1="61" y1="606" x2="61" y2="618" stroke="#444" stroke-width="1.1" />
<line x1="58.0" y1="606" x2="64.0" y2="606" stroke="#222" stroke-width="1.3" />
<line x1="58.0" y1="618" x2="64.0" y2="618" stroke="#222" stroke-width="1.3" />
<line x1="65.6" y1="553.5" x2="65.6" y2="557.5" stroke="#444" stroke-width="1" />
<line x1="63.099999999999994" y1="553.5" x2="68.1" y2="553.5" stroke="#222" stroke-width="1.2" />
<line x1="63.099999999999994" y1="557.5" x2="68.1" y2="557.5" stroke="#222" stroke-width="1.2" />
<line x1="65.6" y1="578" x2="65.6" y2="612" stroke="#444" stroke-width="1.1" />
<line x1="62.599999999999994" y1="578" x2="68.6" y2="578" stroke="#222" stroke-width="1.3" />
<line x1="62.599999999999994" y1="612" x2="68.6" y2="612" stroke="#222" stroke-width="1.3" />
<line x1="65.6" y1="606" x2="65.6" y2="618" stroke="#444" stroke-width="1.1" />
<line x1="62.599999999999994" y1="606" x2="68.6" y2="606" stroke="#222" stroke-width="1.3" />
<line x1="62.599999999999994" y1="618" x2="68.6" y2="618" stroke="#222" stroke-width="1.3" />
<line x1="73.6" y1="540.5" x2="73.6" y2="544.5" stroke="#444" stroke-width="1" />
<line x1="71.1" y1="540.5" x2="76.1" y2="540.5" stroke="#222" stroke-width="1.2" />
<line x1="71.1" y1="544.5" x2="76.1" y2="544.5" stroke="#222" stroke-width="1.2" />
<line x1="73.6" y1="565.5" x2="73.6" y2="607" stroke="#444" stroke-width="1.1" />
<line x1="70.6" y1="565.5" x2="76.6" y2="565.5" stroke="#222" stroke-width="1.3" />
<line x1="70.6" y1="607" x2="76.6" y2="607" stroke="#222" stroke-width="1.3" />
<line x1="73.6" y1="603" x2="73.6" y2="617" stroke="#444" stroke-width="1.1" />
<line x1="70.6" y1="603" x2="76.6" y2="603" stroke="#222" stroke-width="1.3" />
<line x1="70.6" y1="617" x2="76.6" y2="617" stroke="#222" stroke-width="1.3" />
<line x1="86.8" y1="552.7" x2="86.8" y2="595.7" stroke="#444" stroke-width="1.1" />
<line x1="83.8" y1="552.7" x2="89.8" y2="552.7" stroke="#222" stroke-width="1.3" />
<line x1="83.8" y1="595.7" x2="89.8" y2="595.7" stroke="#222" stroke-width="1.3" />
<line x1="86.8" y1="594" x2="86.8" y2="611" stroke="#444" stroke-width="1.1" />
<line x1="83.8" y1="594" x2="89.8" y2="594" stroke="#222" stroke-width="1.3" />
<line x1="83.8" y1="611" x2="89.8" y2="611" stroke="#222" stroke-width="1.3" />
<line x1="109.8" y1="542.1" x2="109.8" y2="585.5" stroke="#444" stroke-width="1.1" />
<line x1="106.8" y1="542.1" x2="112.8" y2="542.1" stroke="#222" stroke-width="1.3" />
<line x1="106.8" y1="585.5" x2="112.8" y2="585.5" stroke="#222" stroke-width="1.3" />
<line x1="109.8" y1="585.2" x2="109.8" y2="603.1" stroke="#444" stroke-width="1.1" />
<line x1="106.8" y1="585.2" x2="112.8" y2="585.2" stroke="#222" stroke-width="1.3" />
<line x1="106.8" y1="603.1" x2="112.8" y2="603.1" stroke="#222" stroke-width="1.3" />
<line x1="152.3" y1="533.2" x2="152.3" y2="575" stroke="#444" stroke-width="1.1" />
<line x1="149.3" y1="533.2" x2="155.3" y2="533.2" stroke="#222" stroke-width="1.3" />
<line x1="149.3" y1="575" x2="155.3" y2="575" stroke="#222" stroke-width="1.3" />
<line x1="152.3" y1="574.5" x2="152.3" y2="592.3" stroke="#444" stroke-width="1.1" />
<line x1="149.3" y1="574.5" x2="155.3" y2="574.5" stroke="#222" stroke-width="1.3" />
<line x1="149.3" y1="592.3" x2="155.3" y2="592.3" stroke="#222" stroke-width="1.3" />
<line x1="226.8" y1="527" x2="226.8" y2="565" stroke="#444" stroke-width="1.1" />
<line x1="223.8" y1="527" x2="229.8" y2="527" stroke="#222" stroke-width="1.3" />
<line x1="223.8" y1="565" x2="229.8" y2="565" stroke="#222" stroke-width="1.3" />
<line x1="226.8" y1="565.2" x2="226.8" y2="581.5" stroke="#444" stroke-width="1.1" />
<line x1="223.8" y1="565.2" x2="229.8" y2="565.2" stroke="#222" stroke-width="1.3" />
<line x1="223.8" y1="581.5" x2="229.8" y2="581.5" stroke="#222" stroke-width="1.3" />
<polyline points="61,569.8 65.6,555.5 73.6,542.5 86.8,533.4 109.8,527.5 152.3,522.5 226.8,520" fill="none" stroke="#444" stroke-width="1"/>
<polyline points="61,603.5 65.6,597 73.6,586.5 86.8,573.5 109.8,563.6 152.3,554.5 226.8,546.5" fill="none" stroke="#444" stroke-width="1"/>
<polyline points="61,612.3 65.6,612.3 73.6,609.8 86.8,603 109.8,594 152.3,583.1 226.8,572.9" fill="none" stroke="#444" stroke-width="1"/>
<circle cx="61" cy="569.8" r="2.5" fill="#fff" stroke="#333" stroke-width="0.9"/>
<path d="M59.45,568.25L62.55,571.3499999999999M59.45,571.3499999999999L62.55,568.25" stroke="#333" stroke-width="0.7200000000000001"/>
<circle cx="65.6" cy="555.5" r="2.5" fill="#fff" stroke="#333" stroke-width="0.9"/>
<path d="M64.05,553.95L67.14999999999999,557.05M64.05,557.05L67.14999999999999,553.95" stroke="#333" stroke-width="0.7200000000000001"/>
<circle cx="73.6" cy="542.5" r="2.5" fill="#fff" stroke="#333" stroke-width="0.9"/>
<path d="M72.05,540.95L75.14999999999999,544.05M72.05,544.05L75.14999999999999,540.95" stroke="#333" stroke-width="0.7200000000000001"/>
<circle cx="86.8" cy="533.4" r="2.5" fill="#fff" stroke="#333" stroke-width="0.9"/>
<path d="M85.25,531.85L88.35,534.9499999999999M85.25,534.9499999999999L88.35,531.85" stroke="#333" stroke-width="0.7200000000000001"/>
<circle cx="109.8" cy="527.5" r="2.5" fill="#fff" stroke="#333" stroke-width="0.9"/>
<path d="M108.25,525.95L111.35,529.05M108.25,529.05L111.35,525.95" stroke="#333" stroke-width="0.7200000000000001"/>
<circle cx="152.3" cy="522.5" r="2.5" fill="#fff" stroke="#333" stroke-width="0.9"/>
<path d="M150.75,520.95L153.85000000000002,524.05M150.75,524.05L153.85000000000002,520.95" stroke="#333" stroke-width="0.7200000000000001"/>
<circle cx="226.8" cy="520" r="2.5" fill="#fff" stroke="#333" stroke-width="0.9"/>
<path d="M225.25,518.45L228.35000000000002,521.55M225.25,521.55L228.35000000000002,518.45" stroke="#333" stroke-width="0.7200000000000001"/>
<polygon points="57.8,601.16 64.2,601.16 61,606.36" fill="#fff" stroke="#000" stroke-width="1" stroke-linejoin="miter"/>
<polygon points="62.39999999999999,594.66 68.8,594.66 65.6,599.86" fill="#fff" stroke="#000" stroke-width="1" stroke-linejoin="miter"/>
<polygon points="70.39999999999999,584.16 76.8,584.16 73.6,589.36" fill="#fff" stroke="#000" stroke-width="1" stroke-linejoin="miter"/>
<polygon points="83.6,571.16 90.0,571.16 86.8,576.36" fill="#fff" stroke="#000" stroke-width="1" stroke-linejoin="miter"/>
<polygon points="106.6,561.26 113.0,561.26 109.8,566.46" fill="#fff" stroke="#000" stroke-width="1" stroke-linejoin="miter"/>
<polygon points="149.10000000000002,552.16 155.5,552.16 152.3,557.36" fill="#fff" stroke="#000" stroke-width="1" stroke-linejoin="miter"/>
<polygon points="223.60000000000002,544.16 230.0,544.16 226.8,549.36" fill="#fff" stroke="#000" stroke-width="1" stroke-linejoin="miter"/>
<polygon points="58.0,612.3 61,609.8 64.0,612.3 61,614.8" fill="#fff" stroke="#222" stroke-width="0.9"/>
<polygon points="62.599999999999994,612.3 65.6,609.8 68.6,612.3 65.6,614.8" fill="#fff" stroke="#222" stroke-width="0.9"/>
<polygon points="70.6,609.8 73.6,607.3 76.6,609.8 73.6,612.3" fill="#fff" stroke="#222" stroke-width="0.9"/>
<polygon points="83.8,603 86.8,600.5 89.8,603 86.8,605.5" fill="#fff" stroke="#222" stroke-width="0.9"/>
<polygon points="106.8,594 109.8,591.5 112.8,594 109.8,596.5" fill="#fff" stroke="#222" stroke-width="0.9"/>
<polygon points="149.3,583.1 152.3,580.6 155.3,583.1 152.3,585.6" fill="#fff" stroke="#222" stroke-width="0.9"/>
<polygon points="223.8,572.9 226.8,570.4 229.8,572.9 226.8,575.4" fill="#fff" stroke="#222" stroke-width="0.9"/>
<line x1="246" y1="518.8" x2="235.4" y2="518.8" stroke="#000" stroke-width="1.2" />
<polygon points="235.4,518.8 240.4,516.1999999999999 240.4,521.4" fill="#000"/>
<line x1="303" y1="518.5" x2="314.5" y2="518.5" stroke="#000" stroke-width="1.2" />
<polygon points="314.5,518.5 309.5,515.9 309.5,521.1" fill="#000"/>
<text x="259" y="525.5" font-size="10.5" font-weight="normal" text-anchor="start" fill="#222" textLength="36" lengthAdjust="spacingAndGlyphs" >Wildtype</text>
<path d="M235,527.2 q4,0 4,4 v9 q0,4 3,4.3 q-3,0.3 -3,4.3 v9 q0,4 -4,4" fill="none" stroke="#222" stroke-width="1.1"/>
<text x="244.3" y="551.1" font-size="10.5" font-weight="normal" text-anchor="start" fill="#222" textLength="23.2" lengthAdjust="spacingAndGlyphs" >&lt;10%</text>
<text x="282" y="545.2" font-size="10.5" font-weight="normal" text-anchor="start" fill="#222" textLength="23.2" lengthAdjust="spacingAndGlyphs" >&gt;10%</text>
<path d="M311.5,535.7 q-3,0 -3,3 v2.8 q0,1.7 -2.5,1.7 q2.5,0 2.5,1.7 v2.8 q0,3 3,3" fill="none" stroke="#222" stroke-width="1.1"/>
<line x1="245" y1="567.8" x2="235.4" y2="567.8" stroke="#000" stroke-width="1.2" />
<polygon points="235.4,567.8 240.4,565.1999999999999 240.4,570.4" fill="#000"/>
<line x1="303.7" y1="567" x2="314" y2="567" stroke="#000" stroke-width="1.2" />
<polygon points="314,567 309,564.4 309,569.6" fill="#000"/>
<text x="249.1" y="574.4" font-size="10.5" font-weight="normal" text-anchor="start" fill="#222" textLength="52.3" lengthAdjust="spacingAndGlyphs" >BERK+Mock</text>
<text x="274.5" y="492.8" font-size="18" font-weight="bold" text-anchor="start" fill="#000" class="p">H</text>
<rect x="315" y="513" width="16.3" height="108" fill="#b3b3b3"/>
<rect x="468.3" y="513" width="16.5" height="108" fill="#b3b3b3"/>
<line x1="494" y1="517.0" x2="494" y2="623" stroke="#000" stroke-width="1.6" />
<line x1="311" y1="623" x2="494" y2="623" stroke="#000" stroke-width="1.6" />
<line x1="494" y1="622.3" x2="497.6" y2="622.3" stroke="#000" stroke-width="1.6" />
<text x="499.3" y="625.35" font-size="9.29" font-weight="bold" text-anchor="start" fill="#000" textLength="15.0" lengthAdjust="spacingAndGlyphs" class="t">0.0</text>
<line x1="494" y1="587.6999999999999" x2="497.6" y2="587.6999999999999" stroke="#000" stroke-width="1.6" />
<text x="499.3" y="590.75" font-size="9.29" font-weight="bold" text-anchor="start" fill="#000" textLength="15.0" lengthAdjust="spacingAndGlyphs" class="t">0.2</text>
<line x1="494" y1="553.0999999999999" x2="497.6" y2="553.0999999999999" stroke="#000" stroke-width="1.6" />
<text x="499.3" y="556.15" font-size="9.29" font-weight="bold" text-anchor="start" fill="#000" textLength="15.0" lengthAdjust="spacingAndGlyphs" class="t">0.4</text>
<line x1="494" y1="518.5" x2="497.6" y2="518.5" stroke="#000" stroke-width="1.6" />
<text x="499.3" y="521.55" font-size="9.29" font-weight="bold" text-anchor="start" fill="#000" textLength="15.0" lengthAdjust="spacingAndGlyphs" class="t">0.6</text>
<line x1="311.5" y1="620" x2="311.5" y2="623" stroke="#000" stroke-width="1.6" />
<text x="311.5" y="634.35" font-size="9.0" font-weight="bold" text-anchor="middle" fill="#000" textLength="10.8" lengthAdjust="spacingAndGlyphs" class="t">30</text>
<line x1="347.86" y1="620" x2="347.86" y2="623" stroke="#000" stroke-width="1.6" />
<text x="347.86" y="634.35" font-size="9.0" font-weight="bold" text-anchor="middle" fill="#000" textLength="10.8" lengthAdjust="spacingAndGlyphs" class="t">24</text>
<line x1="384.22" y1="620" x2="384.22" y2="623" stroke="#000" stroke-width="1.6" />
<text x="384.22" y="634.35" font-size="9.0" font-weight="bold" text-anchor="middle" fill="#000" textLength="10.8" lengthAdjust="spacingAndGlyphs" class="t">18</text>
<line x1="420.58000000000004" y1="620" x2="420.58000000000004" y2="623" stroke="#000" stroke-width="1.6" />
<text x="420.58000000000004" y="634.35" font-size="9.0" font-weight="bold" text-anchor="middle" fill="#000" textLength="10.8" lengthAdjust="spacingAndGlyphs" class="t">12</text>
<line x1="456.94" y1="620" x2="456.94" y2="623" stroke="#000" stroke-width="1.6" />
<text x="456.94" y="634.35" font-size="9.0" font-weight="bold" text-anchor="middle" fill="#000" textLength="5.4" lengthAdjust="spacingAndGlyphs" class="t">6</text>
<line x1="475.12" y1="620" x2="475.12" y2="623" stroke="#000" stroke-width="1.6" />
<text x="475.12" y="634.35" font-size="9.0" font-weight="bold" text-anchor="middle" fill="#000" textLength="5.4" lengthAdjust="spacingAndGlyphs" class="t">3</text>
<line x1="493.3" y1="620" x2="493.3" y2="623" stroke="#000" stroke-width="1.6" />
<text x="493.3" y="634.35" font-size="9.0" font-weight="bold" text-anchor="middle" fill="#000" textLength="5.4" lengthAdjust="spacingAndGlyphs" class="t">0</text>
<line x1="323.25" y1="533.75" x2="323.25" y2="546.25" stroke="#333" stroke-width="1.1" />
<line x1="320.0" y1="533.75" x2="326.5" y2="533.75" stroke="#222" stroke-width="1.3" />
<line x1="320.0" y1="546.25" x2="326.5" y2="546.25" stroke="#222" stroke-width="1.3" />
<line x1="323.25" y1="567.5" x2="323.25" y2="583" stroke="#333" stroke-width="1.1" />
<line x1="320.0" y1="567.5" x2="326.5" y2="567.5" stroke="#222" stroke-width="1.3" />
<line x1="320.0" y1="583" x2="326.5" y2="583" stroke="#222" stroke-width="1.3" />
<line x1="397.5" y1="541.25" x2="397.5" y2="555" stroke="#333" stroke-width="1.1" />
<line x1="394.25" y1="541.25" x2="400.75" y2="541.25" stroke="#222" stroke-width="1.3" />
<line x1="394.25" y1="555" x2="400.75" y2="555" stroke="#222" stroke-width="1.3" />
<line x1="397.5" y1="576.25" x2="397.5" y2="594.5" stroke="#333" stroke-width="1.1" />
<line x1="394.25" y1="576.25" x2="400.75" y2="576.25" stroke="#222" stroke-width="1.3" />
<line x1="394.25" y1="594.5" x2="400.75" y2="594.5" stroke="#222" stroke-width="1.3" />
<line x1="439.25" y1="551" x2="439.25" y2="566" stroke="#333" stroke-width="1.1" />
<line x1="436.0" y1="551" x2="442.5" y2="551" stroke="#222" stroke-width="1.3" />
<line x1="436.0" y1="566" x2="442.5" y2="566" stroke="#222" stroke-width="1.3" />
<line x1="439.25" y1="587" x2="439.25" y2="605" stroke="#333" stroke-width="1.1" />
<line x1="436.0" y1="587" x2="442.5" y2="587" stroke="#222" stroke-width="1.3" />
<line x1="436.0" y1="605" x2="442.5" y2="605" stroke="#222" stroke-width="1.3" />
<line x1="463" y1="562" x2="463" y2="578" stroke="#333" stroke-width="1.1" />
<line x1="459.75" y1="562" x2="466.25" y2="562" stroke="#222" stroke-width="1.3" />
<line x1="459.75" y1="578" x2="466.25" y2="578" stroke="#222" stroke-width="1.3" />
<line x1="463" y1="598" x2="463" y2="612.5" stroke="#333" stroke-width="1.1" />
<line x1="459.75" y1="598" x2="466.25" y2="598" stroke="#222" stroke-width="1.3" />
<line x1="459.75" y1="612.5" x2="466.25" y2="612.5" stroke="#222" stroke-width="1.3" />
<line x1="476.5" y1="576" x2="476.5" y2="590" stroke="#333" stroke-width="1.1" />
<line x1="473.25" y1="576" x2="479.75" y2="576" stroke="#222" stroke-width="1.3" />
<line x1="473.25" y1="590" x2="479.75" y2="590" stroke="#222" stroke-width="1.3" />
<line x1="476.5" y1="606" x2="476.5" y2="619" stroke="#333" stroke-width="1.1" />
<line x1="473.25" y1="606" x2="479.75" y2="606" stroke="#222" stroke-width="1.3" />
<line x1="473.25" y1="619" x2="479.75" y2="619" stroke="#222" stroke-width="1.3" />
<line x1="484" y1="588" x2="484" y2="602" stroke="#333" stroke-width="1.1" />
<line x1="480.75" y1="588" x2="487.25" y2="588" stroke="#222" stroke-width="1.3" />
<line x1="480.75" y1="602" x2="487.25" y2="602" stroke="#222" stroke-width="1.3" />
<line x1="484" y1="609" x2="484" y2="620" stroke="#333" stroke-width="1.1" />
<line x1="480.75" y1="609" x2="487.25" y2="609" stroke="#222" stroke-width="1.3" />
<line x1="480.75" y1="620" x2="487.25" y2="620" stroke="#222" stroke-width="1.3" />
<line x1="488.5" y1="598" x2="488.5" y2="611" stroke="#333" stroke-width="1.1" />
<line x1="485.25" y1="598" x2="491.75" y2="598" stroke="#222" stroke-width="1.3" />
<line x1="485.25" y1="611" x2="491.75" y2="611" stroke="#222" stroke-width="1.3" />
<line x1="488.5" y1="609" x2="488.5" y2="620" stroke="#333" stroke-width="1.1" />
<line x1="485.25" y1="609" x2="491.75" y2="609" stroke="#222" stroke-width="1.3" />
<line x1="485.25" y1="620" x2="491.75" y2="620" stroke="#222" stroke-width="1.3" />
<polyline points="323.25,523 397.5,525.5 439.25,530 463,536.25 476.5,545.5 484,558.25 488.5,573" fill="none" stroke="#333" stroke-width="1"/>
<polyline points="323.25,540 397.5,548.25 439.25,558.25 463,570 476.5,583 484,595 488.5,604.5" fill="none" stroke="#333" stroke-width="1"/>
<polyline points="323.25,575 397.5,585.5 439.25,596.25 463,605 476.5,611 484,614 488.5,614" fill="none" stroke="#333" stroke-width="1"/>
<circle cx="323.25" cy="523" r="2.9" fill="#fff" stroke="#333" stroke-width="0.9"/>
<path d="M321.452,521.202L325.048,524.798M321.452,524.798L325.048,521.202" stroke="#333" stroke-width="0.7200000000000001"/>
<circle cx="397.5" cy="525.5" r="2.9" fill="#fff" stroke="#333" stroke-width="0.9"/>
<path d="M395.702,523.702L399.298,527.298M395.702,527.298L399.298,523.702" stroke="#333" stroke-width="0.7200000000000001"/>
<circle cx="439.25" cy="530" r="2.9" fill="#fff" stroke="#333" stroke-width="0.9"/>
<path d="M437.452,528.202L441.048,531.798M437.452,531.798L441.048,528.202" stroke="#333" stroke-width="0.7200000000000001"/>
<circle cx="463" cy="536.25" r="2.9" fill="#fff" stroke="#333" stroke-width="0.9"/>
<path d="M461.202,534.452L464.798,538.048M461.202,538.048L464.798,534.452" stroke="#333" stroke-width="0.7200000000000001"/>
<circle cx="476.5" cy="545.5" r="2.9" fill="#fff" stroke="#333" stroke-width="0.9"/>
<path d="M474.702,543.702L478.298,547.298M474.702,547.298L478.298,543.702" stroke="#333" stroke-width="0.7200000000000001"/>
<circle cx="484" cy="558.25" r="2.9" fill="#fff" stroke="#333" stroke-width="0.9"/>
<path d="M482.202,556.452L485.798,560.048M482.202,560.048L485.798,556.452" stroke="#333" stroke-width="0.7200000000000001"/>
<circle cx="488.5" cy="573" r="2.9" fill="#fff" stroke="#333" stroke-width="0.9"/>
<path d="M486.702,571.202L490.298,574.798M486.702,574.798L490.298,571.202" stroke="#333" stroke-width="0.7200000000000001"/>
<circle cx="323.25" cy="540" r="3.3" fill="#000"/>
<circle cx="397.5" cy="548.25" r="3.3" fill="#000"/>
<circle cx="439.25" cy="558.25" r="3.3" fill="#000"/>
<circle cx="463" cy="570" r="3.3" fill="#000"/>
<circle cx="476.5" cy="583" r="3.3" fill="#000"/>
<circle cx="484" cy="595" r="3.3" fill="#000"/>
<circle cx="488.5" cy="604.5" r="3.3" fill="#000"/>
<ellipse cx="323.25" cy="575" rx="3.5" ry="2.9" fill="#fff" stroke="#000" stroke-width="1"/>
<ellipse cx="397.5" cy="585.5" rx="3.5" ry="2.9" fill="#fff" stroke="#000" stroke-width="1"/>
<ellipse cx="439.25" cy="596.25" rx="3.5" ry="2.9" fill="#fff" stroke="#000" stroke-width="1"/>
<ellipse cx="463" cy="605" rx="3.5" ry="2.9" fill="#fff" stroke="#000" stroke-width="1"/>
<ellipse cx="476.5" cy="611" rx="3.5" ry="2.9" fill="#fff" stroke="#000" stroke-width="1"/>
<ellipse cx="484" cy="614" rx="3.5" ry="2.9" fill="#fff" stroke="#000" stroke-width="1"/>
<ellipse cx="488.5" cy="614" rx="3.5" ry="2.9" fill="#fff" stroke="#000" stroke-width="1"/>
<text x="226.2" y="648.2" font-size="13.4" font-weight="normal" text-anchor="start" fill="#000" >Shear Stress (Pa)</text>
</svg></body></html>
